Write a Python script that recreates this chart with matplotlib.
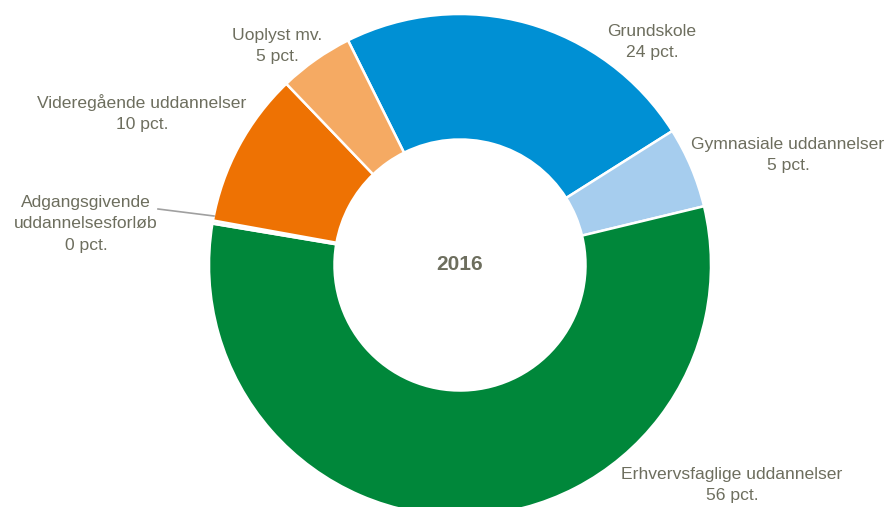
import matplotlib
matplotlib.use("Agg")
import matplotlib.pyplot as plt

categories = ["Grundskole", "Gymnasiale uddannelser", "Erhvervsfaglige uddannelser",
              "Adgangsgivende\nuddannelsesforløb", "Videregående uddannelser", "Uoplyst mv."]
values = [23.4, 5.2, 56.4, 0.2, 10.0, 4.8]
pct_labels = ["24 pct.", "5 pct.", "56 pct.", "0 pct.", "10 pct.", "5 pct."]
colors = ["#0090d4", "#a6cdee", "#00873a", "#f2f2f2", "#ee7203", "#f5aa63"]
center_label = "2016"

W, H = 886, 507
fig = plt.figure(figsize=(W / 100, H / 100), dpi=100)
ax = fig.add_axes([0, 0, 1, 1])

cx, cy, R = 460, H - 265, 251
ax.pie(values, colors=colors, startangle=116.5, counterclock=False,
       center=(cx, cy), radius=R,
       wedgeprops=dict(width=R * 0.5, edgecolor="white", linewidth=1.8),
       frame=True)
ax.set_xlim(0, W)
ax.set_ylim(0, H)
ax.set_aspect("equal")
ax.axis("off")

tc = "#6d6e5e"
fs = 12.6
# label positions (pixel coords, y from top)
pos = [(652, 42), (788, 155), (732, 485), (86, 224), (142, 113), (277, 46)]
for cat, pl, (x, y) in zip(categories, pct_labels, pos):
    ax.text(x, H - y, f"{cat}\n{pl}", ha="center", va="center", fontsize=fs,
            color=tc, family="Liberation Sans", linespacing=1.55)

# leader line for tiny slice
ax.plot([158, 214], [H - 209, H - 216], color="#a0a0a0", lw=1.2)

ax.text(cx, cy, center_label, ha="center", va="center", fontsize=15,
        fontweight="bold", color=tc, family="Liberation Sans")

fig.savefig("out.png", dpi=100)
